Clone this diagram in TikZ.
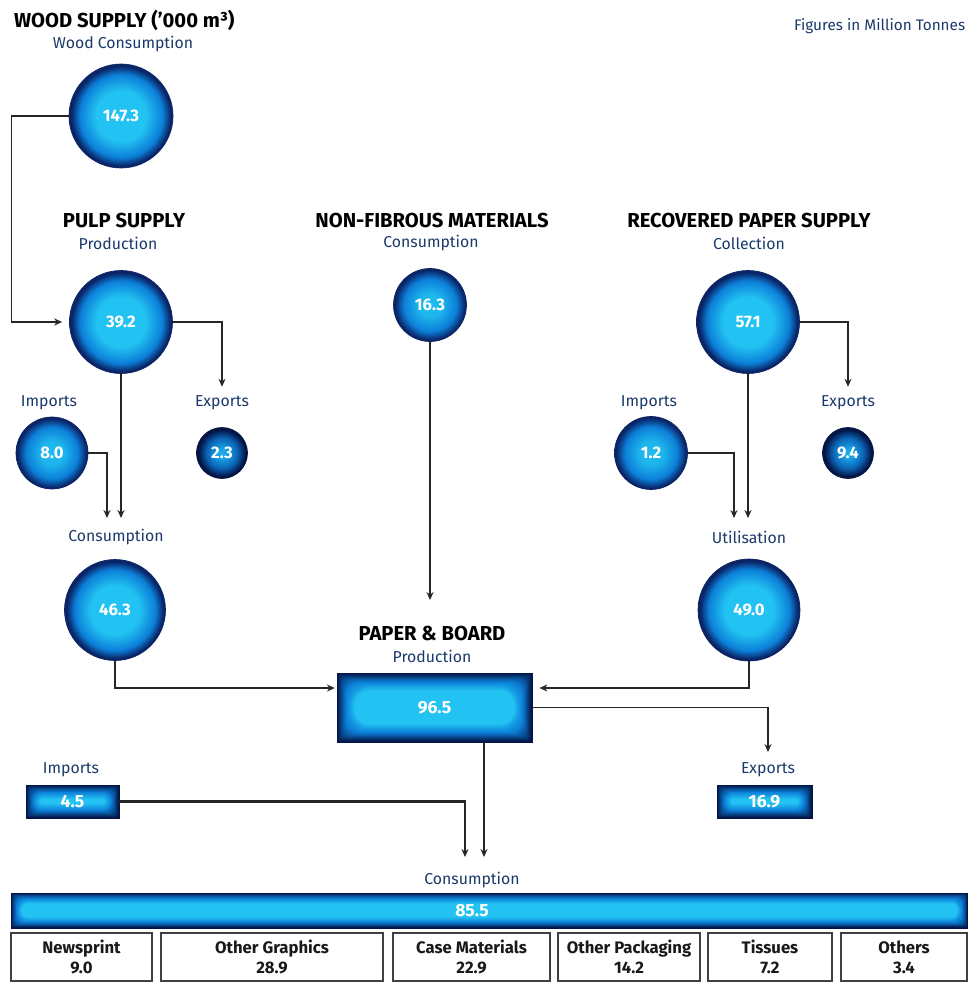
\documentclass[tikz,border=0pt]{standalone}
\usepackage{fontspec}
\setmainfont{Fira Sans}
\usetikzlibrary{arrows.meta,calc}
\definecolor{lblue}{HTML}{1B3A6B}
\definecolor{cyanC}{HTML}{22C3F2}
\definecolor{midC}{HTML}{0C7FD8}
\definecolor{navyC}{HTML}{0A2466}
\definecolor{navyD}{HTML}{041545}
\pgfdeclareradialshading{ballbig}{\pgfpoint{0bp}{0bp}}{color(0bp)=(cyanC); color(12bp)=(cyanC); color(20bp)=(midC); color(24bp)=(navyC); color(25bp)=(navyC); color(50bp)=(navyC)}
\pgfdeclareradialshading{ballmed}{\pgfpoint{0bp}{0bp}}{color(0bp)=(cyanC!90!midC); color(8bp)=(cyanC!80!midC); color(18bp)=(midC); color(24bp)=(navyC); color(25bp)=(navyC); color(50bp)=(navyC)}
\pgfdeclareradialshading{ballsmall}{\pgfpoint{0bp}{0bp}}{color(0bp)=(cyanC!70!midC); color(5bp)=(cyanC!50!midC); color(15bp)=(midC!70!navyC); color(23bp)=(navyD); color(25bp)=(navyD); color(50bp)=(navyD)}
\newcommand\glowfill[2]{%
  \pgfpointanchor{path picture bounding box}{south west}\pgfgetlastxy\gxa\gya
  \pgfpointanchor{path picture bounding box}{north east}\pgfgetlastxy\gxb\gyb
  \pgfmathsetmacro\ghh{(\gyb-\gya)/2}%
  \foreach \i in {0,...,#2}{%
    \pgfmathtruncatemacro\mxa{min(100, 200*\i/#2)}%
    \pgfmathtruncatemacro\mxb{max(0, 200*\i/#2-100)}%
    \pgfmathsetmacro\rr{max(0.05, min(\i*#1*1.5, 0.9*(\ghh - \i*#1)))}%
    \ifnum\mxb=0\relax
      \colorlet{glowcol}{midC!\mxa!navyD}%
    \else
      \colorlet{glowcol}{cyanC!\mxb!midC}%
    \fi
    \fill[glowcol, rounded corners=\rr pt] ($(path picture bounding box.south west)+(\i*#1pt,\i*#1pt)$) rectangle ($(path picture bounding box.north east)-(\i*#1pt,\i*#1pt)$);
  }}
\tikzset{
  head/.style={font=\bfseries\fontsize{11.5}{13}\selectfont, text=black, inner sep=1pt},
  sub/.style={font=\fontsize{9}{10.5}\selectfont, text=lblue, inner sep=2pt},
  ball/.style={circle, draw=navyC, line width=0.4pt, shading=ballbig, text=white, font=\bfseries\fontsize{9.5}{10}\selectfont, inner sep=0pt},
  ballm/.style={ball, shading=ballmed},
  balls/.style={ball, shading=ballsmall, draw=navyD},
  glowbox/.style 2 args={rectangle, draw=navyD, line width=0.5pt, fill=navyD, path picture={\glowfill{#1}{#2}}, text=white, font=\bfseries\fontsize{10}{11}\selectfont, inner sep=0pt},
  valtxt/.style={text=white, font=\bfseries\fontsize{10}{11}\selectfont, inner sep=0pt},
  catbox/.style={rectangle, draw=black!75, line width=0.6pt, fill=white, align=center, font=\bfseries\fontsize{9.5}{11.5}\selectfont, text=black!90, inner sep=0pt, minimum height=0.96cm},
  flow/.style={draw=black!85, line width=0.75pt, -{Stealth[length=4.5pt,width=4pt]}},
  flowthick/.style={flow, line width=1.2pt}
}
\begin{document}
\begin{tikzpicture}[x=0.02cm,y=-0.02cm]
\fill[white] (0,0) rectangle (971,983);
\useasboundingbox (0,0) rectangle (971,983);

% headers
\node[head, anchor=west] (woodh) at (12,20) {WOOD SUPPLY ('000 m³)};
\node[sub] (woodc) at (123,44) {Wood Consumption};
\node[sub, font=\fontsize{8.7}{10}\selectfont, anchor=east] (fig) at (969,26) {Figures in Million Tonnes};

% wood / pulp column
\node[ball, minimum size=2.08cm] (wood) at (121,116) {147.3};
\node[head] (pulph) at (124,220) {PULP SUPPLY};
\node[sub] (pulpc) at (118,243) {Production};
\node[ball, minimum size=2.06cm] (pulp) at (121,322) {39.2};
\node[sub] (imp1l) at (49,403) {Imports};
\node[ballm, minimum size=1.44cm] (imp1) at (52,453) {8.0};
\node[sub] (exp1l) at (222,403) {Exports};
\node[balls, minimum size=1.02cm] (exp1) at (222,453) {2.3};
\node[sub] (cons1l) at (116,537) {Consumption};
\node[ball, minimum size=2.02cm] (cons1) at (115,610) {46.3};

% non-fibrous
\node[head] (nfh) at (432,220) {NON-FIBROUS MATERIALS};
\node[sub] (nfc) at (431,243) {Consumption};
\node[ballm, minimum size=1.46cm] (nf) at (430,305) {16.3};

% recovered paper
\node[head] (rph) at (749,220) {RECOVERED PAPER SUPPLY};
\node[sub] (rpc) at (749,243) {Collection};
\node[ball, minimum size=2.06cm] (rp) at (748,322) {57.1};
\node[sub] (imp2l) at (649,403) {Imports};
\node[ballm, minimum size=1.46cm] (imp2) at (651,453) {1.2};
\node[sub] (exp2l) at (848,403) {Exports};
\node[balls, minimum size=1.02cm] (exp2) at (848,453) {9.4};
\node[sub] (utill) at (749,537) {Utilisation};
\node[ball, minimum size=2.04cm] (util) at (749,610) {49.0};

% paper & board
\node[head] (pbh) at (432,633) {PAPER \& BOARD};
\node[sub] (pbc) at (432,656) {Production};
\node[glowbox={0.5}{20}, minimum width=3.9cm, minimum height=1.38cm] (pb) at (434.5,707.5) {96.5};

\node[sub] (imp3l) at (71,770) {Imports};
\node[glowbox={0.4}{20}, minimum width=1.86cm, minimum height=0.66cm] (imp3) at (72.5,801.5) {4.5};
\node[sub] (exp3l) at (768,770) {Exports};
\node[glowbox={0.4}{20}, minimum width=1.9cm, minimum height=0.66cm] (exp3) at (764.5,801.5) {16.9};

\node[sub] (cons2l) at (472,880) {Consumption};
\node[glowbox={0.3}{20}, minimum width=19.14cm, minimum height=0.7cm] (bar) at (489.5,910.5) {};
\node[valtxt] (barv) at (472,910.5) {85.5};

% categories
\node[catbox, minimum width=2.82cm] (c1) at (81.5,957) {Newsprint\\9.0};
\node[catbox, minimum width=4.44cm] (c2) at (272,957) {Other Graphics\\28.9};
\node[catbox, minimum width=3.14cm] (c3) at (471.5,957) {Case Materials\\22.9};
\node[catbox, minimum width=2.84cm] (c4) at (629,957) {Other Packaging\\14.2};
\node[catbox, minimum width=2.48cm] (c5) at (770,957) {Tissues\\7.2};
\node[catbox, minimum width=2.52cm] (c6) at (904,957) {Others\\3.4};

% connectors
\coordinate (j1) at (107,518);
\coordinate (j2) at (734,518);
\coordinate (j3) at (430,600);
\coordinate (j4) at (484,857);
\coordinate (j5) at (465,857);

\draw[flow, shorten >=4pt] (wood.west) -- ++(-57,0) |- (pulp.west);
\draw[flow, shorten >=3pt] (pulp.east) -| (exp1l.north);
\draw[flow] (pulp.south) -- (pulp.south |- j1);
\draw[flowthick] (imp1.east) -| (j1);

\draw[flow] (nf.south) -- (j3);

\draw[flow, shorten >=3pt] (rp.east) -| (exp2l.north);
\draw[flow] (rp.south) -- (rp.south |- j2);
\draw[flow] (imp2.east) -| (j2);

\draw[flow, shorten >=1pt] (cons1.south) |- ([yshift=0.39cm]pb.west);
\draw[flow, shorten >=4pt] (util.south) |- ([yshift=0.39cm]pb.east);
\draw[flow, shorten >=4pt] (pb.east) -| (exp3l.north);
\draw[flowthick] (pb.south -| j4) -- (j4);
\draw[flowthick] (imp3.east) -| (j5);
\end{tikzpicture}
\end{document}
